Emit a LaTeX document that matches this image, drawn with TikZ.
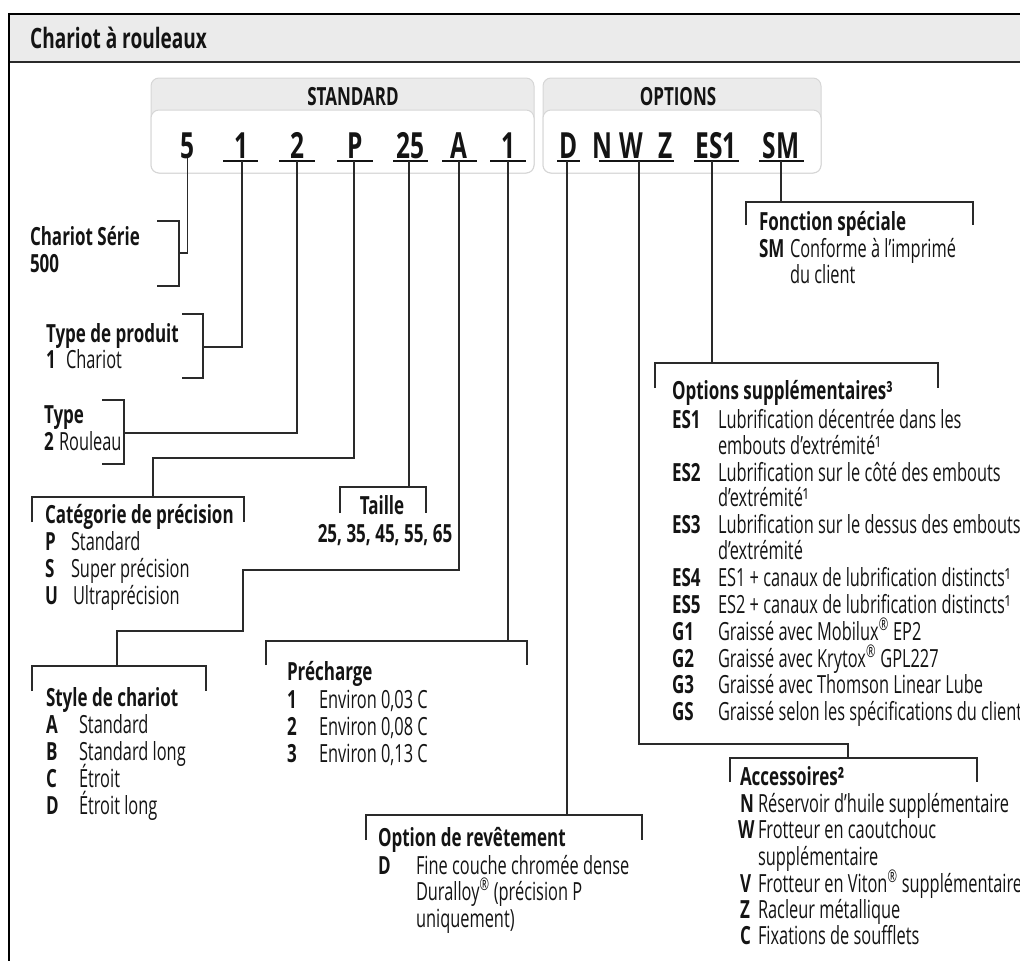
\documentclass[tikz,border=0pt]{standalone}
\usepackage{fontspec}
\setmainfont{Open Sans}[FakeStretch=0.655,BoldFeatures={FakeStretch=0.68}]
\definecolor{ink}{HTML}{141414}
\definecolor{ln}{HTML}{2A2A2A}
\definecolor{hdr}{HTML}{EBEBEB}
\definecolor{boxln}{HTML}{D6D6D6}
\newcommand\rg{\smash{\textsuperscript{®}}}
\newcommand\itm[6]{\node[bd] (#1c) at (#2,#4) {#5}; \node[tx] (#1t) at (#3,#4) {#6};}
\newcommand\sbrk[4]{\draw[brk] (#2,#3) -| (#1,#4) -- (#2,#4);}
\newcommand\tbrk[4]{\draw[brk] (#1,#4) |- (#2,#3) -- (#2,#4);}
\tikzset{
  tx/.style={inner sep=0pt, outer sep=0pt, anchor=base west, text=ink, font=\fontsize{25}{29}\selectfont},
  bd/.style={tx, font=\fontsize{25}{29}\selectfont\bfseries},
  hd/.style={inner sep=0pt, anchor=base, text=ink, font=\fontsize{25}{29}\selectfont\bfseries},
  codech/.style={inner sep=0pt, anchor=base, text=ink, font=\fontsize{36}{40}\selectfont\bfseries},
  conn/.style={draw=ln, line width=1.2pt},
  brk/.style={draw=ln, line width=1.2pt},
  uline/.style={draw=ink, line width=2pt},
  boxc/.style={draw=boxln, line width=1pt, rounded corners=8pt},
}
\begin{document}
\begin{tikzpicture}[x=1pt,y=-1pt]
\useasboundingbox (0,0) rectangle (1020,961);
\clip (0,0) rectangle (1020,961);
% frame and title bar
\fill[hdr] (9,14) rectangle (1030,62);
\draw[ln, line width=1.4pt] (9,62) -- (1030,62);
\draw[black, line width=2.4pt] (9,14) -- (1030,14);
\draw[black, line width=2.4pt] (9,12.8) -- (9,970);
\node[inner sep=0pt, anchor=base west, text=ink, font=\fontsize{28}{32}\selectfont\bfseries] (title) at (30,48) {Chariot à rouleaux};
% code boxes
\draw[boxc, fill=hdr] (151,78) rectangle (534,173);
\draw[boxc, fill=white] (151,110) rectangle (534,173);
\draw[boxc, fill=hdr] (543,78) rectangle (821,173);
\draw[boxc, fill=white] (543,110) rectangle (821,173);
\node[hd] (std) at (353,105) {STANDARD};
\node[hd] (opt) at (678,105) {OPTIONS};
% code characters
\node[codech] (t5) at (187,158) {5};
\node[codech] (t1) at (241,158) {1};
\node[codech] (t2) at (297,158) {2};
\node[codech] (tP) at (355,158) {P};
\node[codech] (t25) at (410,158) {25};
\node[codech] (tA) at (459,158) {A};
\node[codech] (t1b) at (508,158) {1};
\node[codech] (tD) at (569,158) {D};
\node[codech] (tN) at (602.5,158) {N};
\node[codech] (tW) at (631,158) {W};
\node[codech] (tZ) at (666,158) {Z};
\node[codech] (tES) at (716,158) {ES1};
\node[codech] (tSM) at (781,158) {SM};
% underlines
\draw[uline] (223,161) -- (258,161);
\draw[uline] (279,161) -- (315,161);
\draw[uline] (337,161) -- (373,161);
\draw[uline] (393,161) -- (428,161);
\draw[uline] (442,161) -- (477,161);
\draw[uline] (490,161) -- (526,161);
\draw[uline] (557,161) -- (580,161);
\draw[uline] (599,161) -- (674,161);
\draw[uline] (694,161) -- (739,161);
\draw[uline] (759,161) -- (804,161);
% connector start points
\coordinate (k5) at (187.5,158);
\coordinate (k1) at (242,161);
\coordinate (k2) at (297,161);
\coordinate (kP) at (354,161);
\coordinate (k25) at (409,161);
\coordinate (kA) at (459,161);
\coordinate (k1b) at (508,161);
\coordinate (kD) at (567,161);
\coordinate (kN) at (639,161);
\coordinate (kES) at (712,161);
\coordinate (kSM) at (781,161);
% bracket attach points
\coordinate (a5) at (179,253);
\coordinate (a1) at (203,347);
\coordinate (a2) at (124,433);
\coordinate (aP) at (153,497);
\coordinate (a25) at (409,487);
\coordinate (aA) at (117,666);
\coordinate (a1b) at (508,641);
\coordinate (aD) at (567,815);
\coordinate (aN) at (848,758);
\coordinate (aES) at (712,363);
\coordinate (aSM) at (781,202);
% brackets
\sbrk{179}{157}{221}{286}
\sbrk{203}{182}{314}{378}
\sbrk{124}{102}{400}{464}
\tbrk{32}{244}{497}{522}
\tbrk{340}{426}{487}{513}
\tbrk{32}{206}{666}{691}
\tbrk{266}{527}{641}{665}
\tbrk{366}{642}{815}{840}
\tbrk{730}{977}{758}{782}
\tbrk{655}{938}{363}{388}
\tbrk{746}{973}{202}{225}
% connectors
\draw[conn] (k5) |- (a5);
\draw[conn] (k1) |- (a1);
\draw[conn] (k2) |- (a2);
\draw[conn] (kP) -- ++(0,297) -| (aP);
\draw[conn] (k25) -- (a25);
\draw[conn] (kA) -- ++(0,409) -- ++(-216,0) -- ++(0,61) -| (aA);
\draw[conn] (k1b) -- (a1b);
\draw[conn] (kD) -- (aD);
\draw[conn] (kN) -- ++(0,583) -| (aN);
\draw[conn] (kES) -- (aES);
\draw[conn] (kSM) -- (aSM);
% Chariot Serie
\node[bd] (serA) at (30,245) {Chariot Série};
\node[bd] (serB) at (30,272) {500};
% Type de produit
\node[bd] (tdp) at (46,342) {Type de produit};
\itm{tdp1}{46}{66}{368}{1}{Chariot}
% Type
\node[bd] (typ) at (44,423) {Type};
\itm{typ1}{44}{59}{450}{2}{Rouleau}
% Categorie
\node[bd] (cat) at (45,523) {Catégorie de précision};
\itm{catP}{45}{71}{550}{P}{Standard}
\itm{catS}{45}{71}{577}{S}{Super précision}
\itm{catU}{45}{73}{604}{U}{Ultraprécision}
% Taille
\node[hd] (tai) at (382,514) {Taille};
\node[hd] (taiv) at (385,542) {25, 35, 45, 55, 65};
% Style de chariot
\node[bd] (sty) at (46,706) {Style de chariot};
\itm{styA}{46}{79}{733}{A}{Standard}
\itm{styB}{46}{79}{760}{B}{Standard long}
\itm{styC}{46}{79}{787}{C}{Étroit}
\itm{styD}{46}{79}{814}{D}{Étroit long}
% Precharge
\node[bd] (pre) at (287,680) {Précharge};
\itm{pre1}{287}{319}{708}{1}{Environ 0,03 C}
\itm{pre2}{287}{319}{735}{2}{Environ 0,08 C}
\itm{pre3}{287}{319}{762}{3}{Environ 0,13 C}
% Option de revetement
\node[bd] (rev) at (378,846) {Option de revêtement};
\itm{revD}{378}{416}{874}{D}{Fine couche chromée dense}
\node[tx] (revD2) at (416,900) {Duralloy\rg{} (précision P};
\node[tx] (revD3) at (416,927) {uniquement)};
% Fonction speciale
\node[bd] (fon) at (759,230) {Fonction spéciale};
\itm{fonSM}{759}{790}{257}{SM}{Conforme à l'imprimé}
\node[tx] (fonSM2) at (790,283) {du client};
% Options supplementaires
\node[bd] (ops) at (672,399) {Options supplémentaires³};
\itm{es1}{672}{718}{428}{ES1}{Lubrification décentrée dans les}
\node[tx] (es1b) at (718,454) {embouts d'extrémité¹};
\itm{es2}{672}{718}{481}{ES2}{Lubrification sur le côté des embouts}
\node[tx] (es2b) at (718,506) {d'extrémité¹};
\itm{es3}{672}{718}{533}{ES3}{Lubrification sur le dessus des embouts}
\node[tx] (es3b) at (718,559) {d'extrémité};
\itm{es4}{672}{718}{586}{ES4}{ES1 + canaux de lubrification distincts¹}
\itm{es5}{672}{718}{613}{ES5}{ES2 + canaux de lubrification distincts¹}
\itm{g1}{672}{718}{640}{G1}{Graissé avec Mobilux\rg{} EP2}
\itm{g2}{672}{718}{667}{G2}{Graissé avec Krytox\rg{} GPL227}
\itm{g3}{672}{718}{693}{G3}{Graissé avec Thomson Linear Lube}
\itm{gs}{672}{718}{720}{GS}{Graissé selon les spécifications du client}
% Accessoires
\node[bd] (acc) at (740,785) {Accessoires²};
\itm{accN}{740}{758}{812}{N}{Réservoir d'huile supplémentaire}
\itm{accW}{738}{758}{838}{W}{Frotteur en caoutchouc}
\node[tx] (accW2) at (758,865) {supplémentaire};
\itm{accV}{740}{758}{892}{V}{Frotteur en Viton\rg{} supplémentaire}
\itm{accZ}{740}{758}{918}{Z}{Racleur métallique}
\itm{accC}{740}{758}{944}{C}{Fixations de soufflets}
\end{tikzpicture}
\end{document}
